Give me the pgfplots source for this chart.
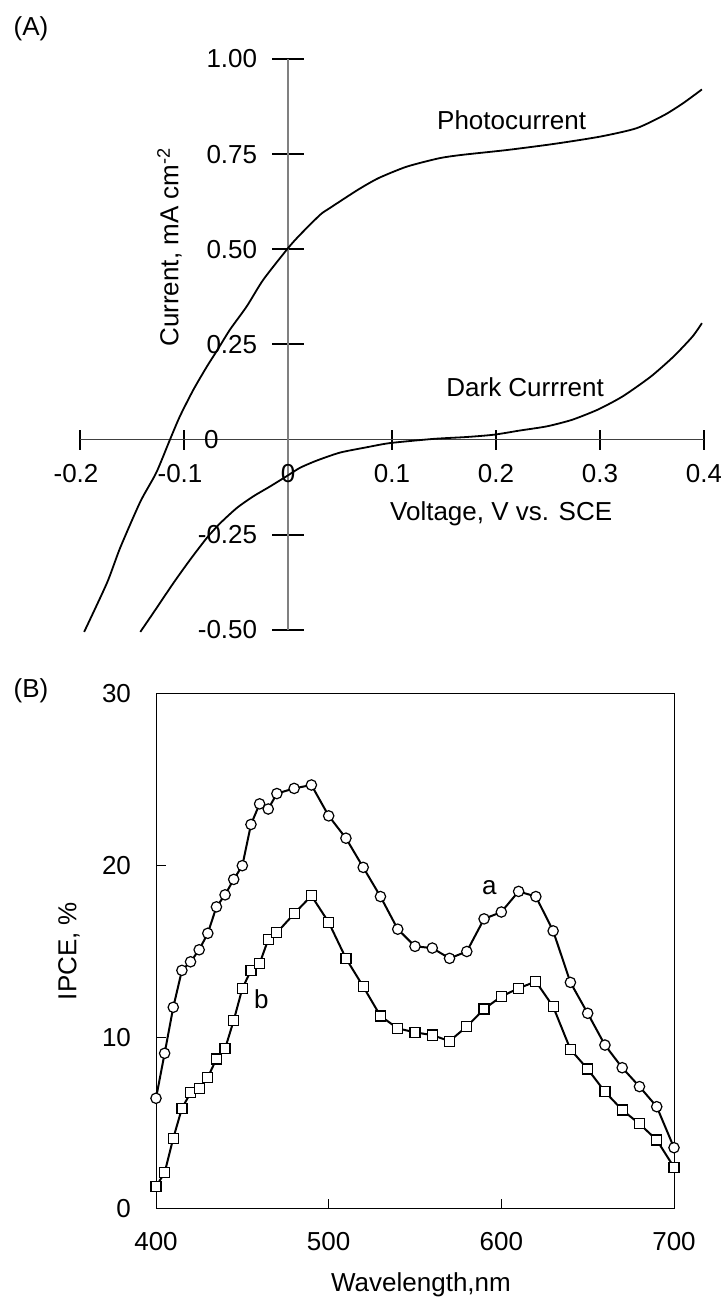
\documentclass[border=0pt]{standalone}
\usepackage{fontspec}
\setmainfont{Liberation Sans}
\usepackage{pgfplots}
\pgfplotsset{compat=1.18}
\tikzset{xtl/.style={anchor=base, inner sep=0pt}, ytl/.style={anchor=east, inner sep=0pt}}
\begin{document}
\begin{tikzpicture}[font=\fontsize{13}{15}\selectfont]
\useasboundingbox (0,0) rectangle (360pt,649.5pt);
% ---------------- Panel A ----------------
\begin{axis}[
  at={(40pt,334.5pt)}, anchor=south west, scale only axis,
  width=312pt, height=285.5pt,
  xmin=-0.2, xmax=0.4, ymin=-0.5, ymax=1,
  axis lines=middle, axis line style={-},
  x axis line style={black!75, line width=0.7pt},
  y axis line style={black!50, line width=0.6pt},
  clip=false,
  tick align=center,
  xtick={-0.2,-0.1,0.1,0.2,0.3,0.4},
  xticklabels={},
  ytick={-0.5,-0.25,0.25,0.5,0.75,1},
  yticklabels={},
  xtick style={black, line width=0.8pt, /pgfplots/major tick length=10pt},
  ytick style={black, line width=1pt, /pgfplots/major tick length=15.5pt},
]
\addplot[black, line width=0.9pt, smooth, tension=0.4] coordinates {
(-0.196,-0.505) (-0.174,-0.376) (-0.1615,-0.285) (-0.142,-0.163) (-0.1267,-0.087)
(-0.1135,0) (-0.104,0.061) (-0.091,0.131) (-0.078,0.192) (-0.068,0.235)
(-0.0558,0.289) (-0.0397,0.350) (-0.0238,0.42) (0,0.503) (0.0115,0.538)
(0.031,0.591) (0.040,0.608) (0.067,0.656) (0.087,0.687) (0.114,0.717)
(0.145,0.739) (0.167,0.748) (0.211,0.761) (0.256,0.777) (0.300,0.796)
(0.335,0.818) (0.362,0.853) (0.380,0.884) (0.398,0.920)
};
\addplot[black, line width=0.9pt, smooth, tension=0.4] coordinates {
(-0.142,-0.505) (-0.1295,-0.455) (-0.110,-0.376) (-0.094,-0.315) (-0.078,-0.258)
(-0.065,-0.219) (-0.049,-0.179) (-0.0334,-0.149) (-0.0173,-0.123) (-0.0013,-0.096)
(0.0115,-0.074) (0.0276,-0.055) (0.05,-0.034) (0.0757,-0.020) (0.098,-0.009)
(0.140,0.002) (0.172,0.007) (0.198,0.013) (0.223,0.024) (0.249,0.035)
(0.273,0.052) (0.298,0.079) (0.322,0.114) (0.349,0.166) (0.371,0.219)
(0.389,0.271) (0.398,0.306)
};
% tick labels
\node[xtl, xshift=-2pt] at (axis cs:-0.2,-0.113) {-0.2};
\node[xtl, xshift=-2pt] at (axis cs:-0.1,-0.113) {-0.1};
\node[xtl] at (axis cs:0,-0.113) {0};
\node[xtl] at (axis cs:0.1,-0.113) {0.1};
\node[xtl] at (axis cs:0.2,-0.113) {0.2};
\node[xtl] at (axis cs:0.3,-0.113) {0.3};
\node[xtl] at (axis cs:0.4,-0.113) {0.4};
\node[ytl] at (axis cs:-0.0293,-0.5) {-0.50};
\node[ytl] at (axis cs:-0.0293,-0.25) {-0.25};
\node[ytl] at (axis cs:-0.0293,0.25) {0.25};
\node[ytl] at (axis cs:-0.0293,0.5) {0.50};
\node[ytl] at (axis cs:-0.0293,0.75) {0.75};
\node[ytl] at (axis cs:-0.0293,1) {1.00};
\node[ytl] at (axis cs:-0.0663,0) {0};
% labels
\node at (axis cs:0.215,0.84) {Photocurrent};
\node at (axis cs:0.228,0.137) {Dark Currrent};
\node at (axis cs:0.205,-0.194) {Voltage, V vs. SCE};
\node[rotate=90] at (axis cs:-0.114,0.506) {Current, mA cm\textsuperscript{-2}};
\end{axis}
\node at (15.5pt,635pt) {(A)};
% ---------------- Panel B ----------------
\begin{axis}[
  at={(78pt,45pt)}, anchor=south west, scale only axis,
  width=259pt, height=257.5pt,
  xmin=400, xmax=700, ymin=0, ymax=30,
  xtick={400,500,600,700}, ytick={0,10,20,30},
  tick align=inside, xtick pos=bottom, ytick pos=left,
  major tick length=5pt,
  axis line style={black, line width=0.5pt},
  tick style={black, line width=0.5pt},
  xticklabel style={yshift=-8pt},
  yticklabel style={xshift=-9pt},
  /pgf/number format/assume math mode=true,
  every tick label/.append style={font=\fontsize{13}{15}\selectfont},
  clip=false,
]
\addplot[black, line width=1pt, mark=*, mark size=2.6pt,
  mark options={fill=white, draw=black, line width=0.6pt}] coordinates {
(400,6.45) (405,9.07) (410,11.75) (415,13.9) (420,14.4) (425,15.1) (430,16.06)
(435,17.6) (440,18.3) (445,19.2) (450,20.0) (455,22.4) (460,23.6) (465,23.3)
(470,24.2) (480,24.5) (490,24.7) (500,22.9) (510,21.6) (520,19.9) (530,18.2)
(540,16.3) (550,15.3) (560,15.2) (570,14.6) (580,15.0) (590,16.9) (600,17.3)
(610,18.5) (620,18.2) (630,16.2) (640,13.2) (650,11.4) (660,9.55) (670,8.23)
(680,7.13) (690,5.96) (700,3.57)
};
\addplot[black, line width=1pt, mark=square*, mark size=2.5pt,
  mark options={fill=white, draw=black, line width=0.6pt}] coordinates {
(400,1.30) (405,2.12) (410,4.12) (415,5.86) (420,6.77) (425,7.0) (430,7.67)
(435,8.74) (440,9.34) (445,10.98) (450,12.85) (455,13.9) (460,14.3) (465,15.7)
(470,16.1) (480,17.2) (490,18.25) (500,16.7) (510,14.6) (520,12.96) (530,11.24)
(540,10.52) (550,10.29) (560,10.13) (570,9.78) (580,10.63) (590,11.65) (600,12.38)
(610,12.86) (620,13.25) (630,11.79) (640,9.3) (650,8.15) (660,6.83) (670,5.77)
(680,4.96) (690,4.02) (700,2.43)
};
\node at (axis cs:593,18.7) {a};
\node at (axis cs:461,12.2) {b};
\end{axis}
\node[rotate=90] at (34.5pt,174pt) {IPCE, \%};
\node at (210.5pt,7pt) {Wavelength,nm};
\node at (15.5pt,304pt) {(B)};
\end{tikzpicture}
\end{document}
